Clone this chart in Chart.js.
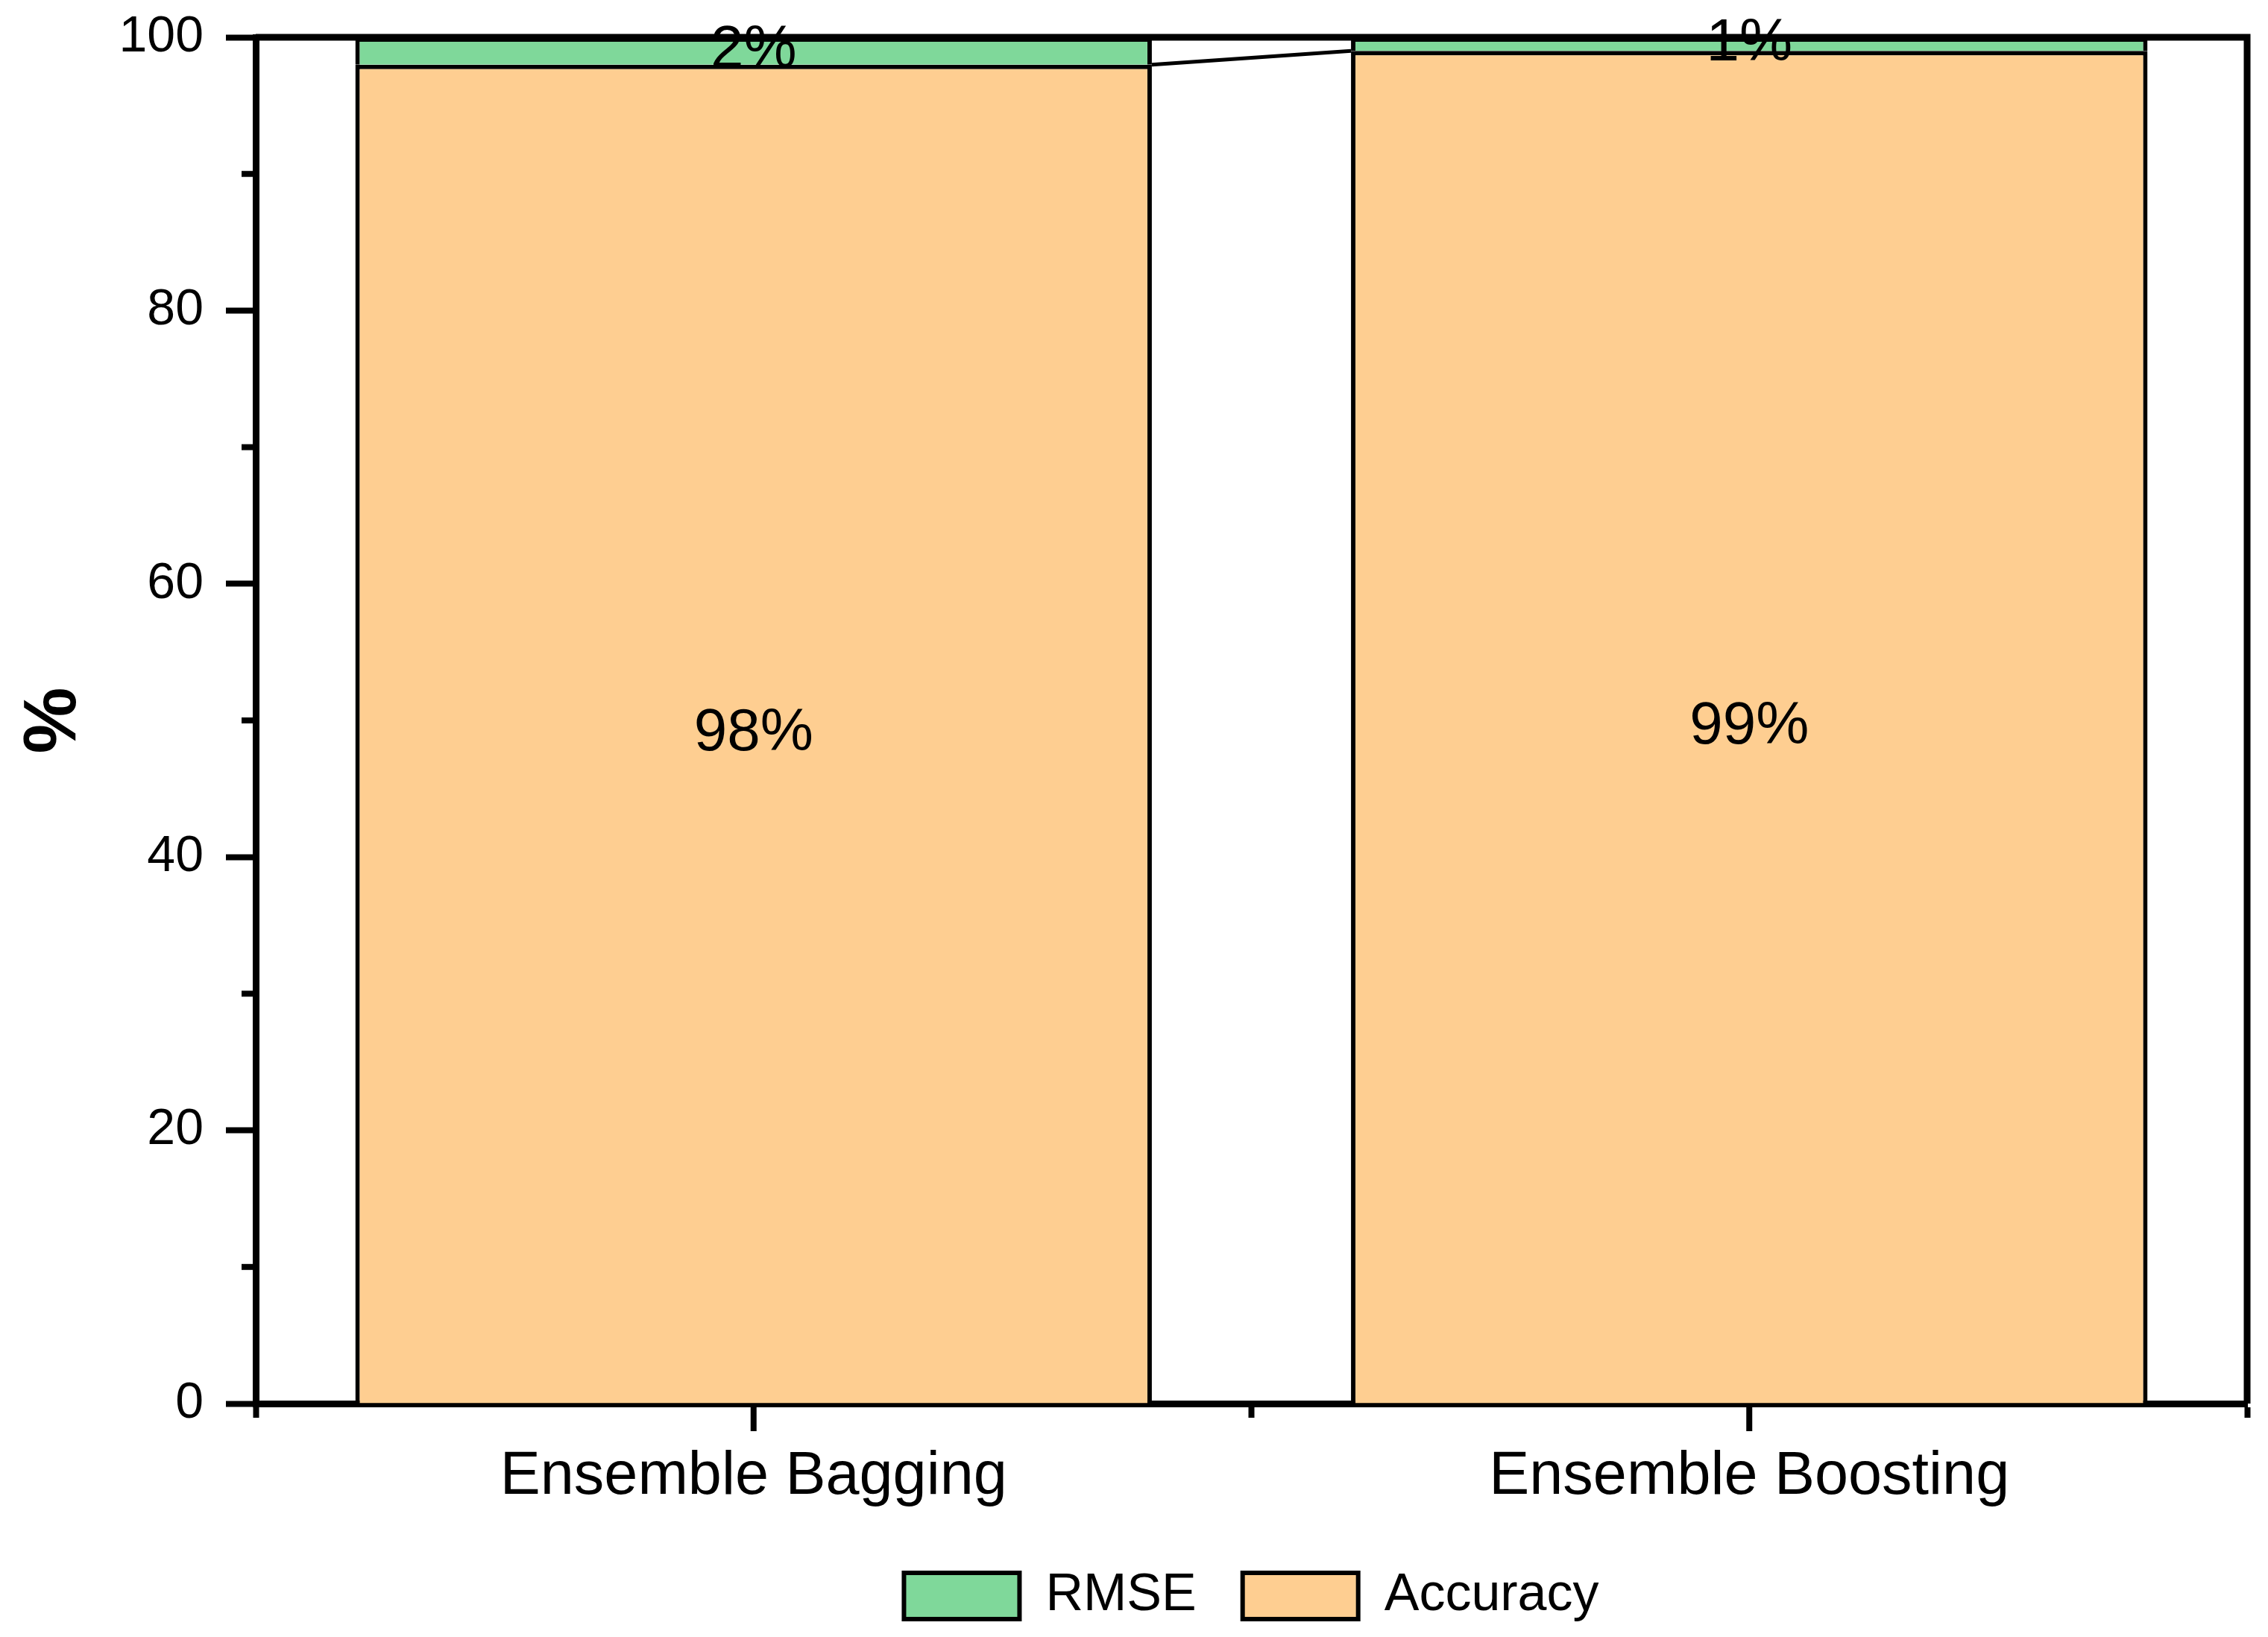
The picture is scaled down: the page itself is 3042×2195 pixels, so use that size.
<!DOCTYPE html>
<html>
<head>
<meta charset="utf-8">
<script src="https://cdn.jsdelivr.net/npm/chart.js@4.4.1/dist/chart.umd.min.js"></script>
<style>
  html, body { margin: 0; padding: 0; background: #fff; }
  canvas { display: block; }
</style>
</head>
<body>
<canvas id="chart" width="3042" height="2195"></canvas>
<script>
// data
const categories = ['Ensemble Bagging', 'Ensemble Boosting'];
const accuracy = [98, 99];
const rmse = [2, 1];
const yTicks = [0, 20, 40, 60, 80, 100];
const yMinorTicks = [10, 30, 50, 70, 90];

const green = 'rgb(127,216,154)';
const orange = 'rgb(254,206,145)';
const fontFamily = '"Liberation Sans", Arial, sans-serif';

Chart.defaults.font.family = fontFamily;
Chart.defaults.color = '#000';

// connector line, value labels, minor ticks and the top/right frame
const decorations = {
    id: 'decorations',
    afterLayout(chart) {
        // legend is centred under the plot area, not the canvas
        chart.legend.left = chart.chartArea.left;
        chart.legend.right = chart.chartArea.right;
    },
    afterDatasetsDraw(chart) {
        const ctx = chart.ctx;
        const accMeta = chart.getDatasetMeta(0);
        ctx.save();
        ctx.strokeStyle = '#000';
        ctx.lineWidth = 5;
        for (let i = 0; i < accMeta.data.length - 1; i++) {
            const a = accMeta.data[i];
            const b = accMeta.data[i + 1];
            ctx.beginPath();
            ctx.moveTo(a.x + a.width / 2, a.y);
            ctx.lineTo(b.x - b.width / 2, b.y);
            ctx.stroke();
        }

        ctx.font = '80px ' + fontFamily;
        ctx.fillStyle = '#000';
        ctx.textAlign = 'center';
        ctx.textBaseline = 'middle';
        chart.data.datasets.forEach((ds, di) => {
            chart.getDatasetMeta(di).data.forEach((el, i) => {
                ctx.fillText(ds.data[i] + '%', el.x, (el.y + el.base) / 2);
            });
        });
        ctx.restore();
    },
    afterDraw(chart) {
        const {ctx, chartArea, scales: {x, y}} = chart;
        ctx.save();
        ctx.strokeStyle = '#000';
        ctx.lineWidth = 8;

        // minor y ticks
        yMinorTicks.forEach(v => {
            const py = y.getPixelForValue(v);
            ctx.beginPath();
            ctx.moveTo(chartArea.left, py);
            ctx.lineTo(chartArea.left - 19, py);
            ctx.stroke();
        });

        // long x ticks at the category centres
        categories.forEach((c, i) => {
            const px = x.getPixelForValue(i);
            ctx.beginPath();
            ctx.moveTo(px, chartArea.bottom);
            ctx.lineTo(px, chartArea.bottom + 37);
            ctx.stroke();
        });

        // frame top and right
        ctx.lineWidth = 9;
        ctx.beginPath();
        ctx.moveTo(chartArea.left, chartArea.top);
        ctx.lineTo(chartArea.right + 4.5, chartArea.top);
        ctx.moveTo(chartArea.right, chartArea.top);
        ctx.lineTo(chartArea.right, chartArea.bottom);
        ctx.stroke();
        ctx.restore();
    }
};

var ctx = document.getElementById('chart').getContext('2d');
var chart = new Chart(ctx, {
    type: 'bar',
    data: {
        labels: categories,
        datasets: [{
            label: 'Accuracy',
            data: accuracy,
            backgroundColor: orange,
            borderColor: '#000',
            borderWidth: 6
        }, {
            label: 'RMSE',
            data: rmse,
            backgroundColor: green,
            borderColor: '#000',
            borderWidth: 6
        }]
    },
    options: {
        responsive: false,
        devicePixelRatio: 1,
        animation: false,
        layout: { padding: { top: 50, right: 28, bottom: 10, left: 0 } },
        datasets: { bar: { categoryPercentage: 1, barPercentage: 0.8 } },
        scales: {
            x: {
                stacked: true,
                grid: { offset: true, drawOnChartArea: false, tickLength: 19, tickWidth: 8, tickColor: '#000' },
                border: { color: '#000', width: 9 },
                ticks: { font: { size: 81 }, padding: 31, color: '#000' },
                afterFit: s => { s.height = 161; }
            },
            y: {
                stacked: true,
                min: 0,
                max: 100,
                afterBuildTicks: s => { s.ticks = yTicks.map(v => ({ value: v })); },
                grid: { drawOnChartArea: false, tickLength: 40, tickWidth: 8, tickColor: '#000' },
                border: { color: '#000', width: 9 },
                ticks: { font: { size: 68 }, padding: 30, color: '#000' },
                title: { display: true, text: '%', font: { size: 100, weight: 'bold' }, padding: { top: 13, bottom: 0 }, color: '#000' },
                afterFit: s => {
                    s.width = 343;
                    // the "100" label may overhang the plot top, as in the figure
                    s.paddingTop = 0;
                    s.paddingBottom = 0;
                }
            }
        },
        plugins: {
            legend: {
                position: 'bottom',
                reverse: true,
                labels: { boxWidth: 155, boxHeight: 62, padding: 62, font: { size: 70 }, color: '#000' }
            },
            tooltip: { enabled: false }
        }
    },
    plugins: [decorations]
});
</script>
</body>
</html>
